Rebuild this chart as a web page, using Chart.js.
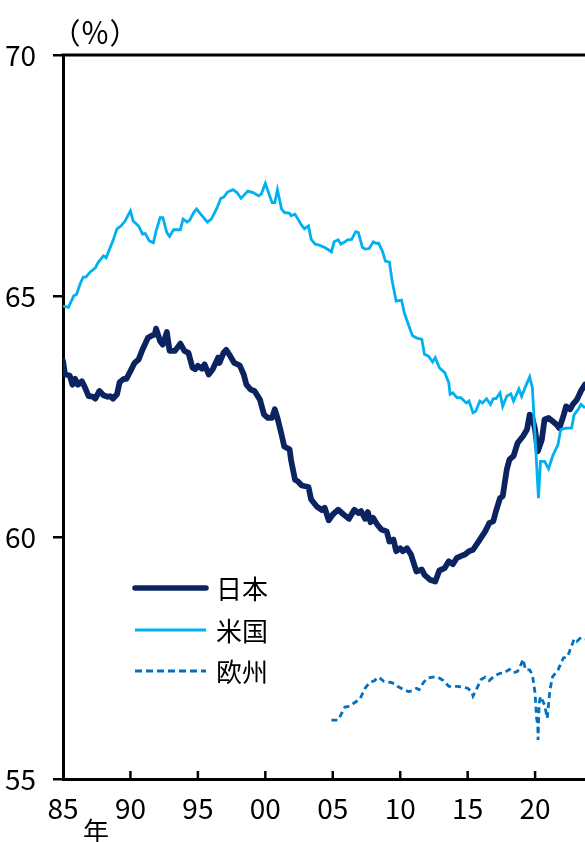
<!DOCTYPE html>
<html>
<head>
<meta charset="utf-8">
<script src="https://cdn.jsdelivr.net/npm/chart.js@4.4.1/dist/chart.umd.min.js"></script>
<style>
html,body{margin:0;padding:0;background:#fff;overflow:hidden;}
canvas{display:block;}
</style>
</head>
<body>
<canvas id="c" width="585" height="842" style="width:585px;height:842px"></canvas>
<script>
// ---- Data ----
const seriesNames = ["日本", "米国", "欧州"];
const xTickYears = [1985, 1990, 1995, 2000, 2005, 2010, 2015, 2020];
const yTickValues = [55, 60, 65, 70];

const japanYears = [1985.0,1985.15,1985.5,1985.7,1985.9,1986.1,1986.4,1986.6,1986.9,1987.2,1987.4,1987.7,1988.0,1988.3,1988.5,1988.7,1989.0,1989.2,1989.5,1989.7,1990.0,1990.3,1990.6,1990.9,1991.3,1991.6,1991.8,1991.9,1992.2,1992.4,1992.7,1992.9,1993.3,1993.7,1994.0,1994.3,1994.6,1994.8,1995.0,1995.3,1995.5,1995.8,1996.1,1996.5,1996.6,1996.9,1997.1,1997.4,1997.7,1998.1,1998.4,1998.6,1998.9,1999.2,1999.6,1999.9,2000.2,2000.5,2000.7,2000.9,2001.2,2001.4,2001.8,2001.9,2002.2,2002.4,2002.7,2003.2,2003.4,2003.8,2004.2,2004.4,2004.7,2005.0,2005.4,2005.8,2006.2,2006.6,2006.9,2007.1,2007.4,2007.6,2007.8,2008.0,2008.3,2008.6,2009.0,2009.2,2009.5,2009.7,2010.0,2010.2,2010.5,2010.8,2011.2,2011.6,2011.8,2012.2,2012.6,2012.9,2013.3,2013.6,2013.9,2014.2,2014.5,2014.8,2015.1,2015.4,2015.9,2016.3,2016.6,2016.9,2017.1,2017.4,2017.6,2017.9,2018.1,2018.4,2018.7,2019.1,2019.4,2019.6,2019.8,2020.0,2020.2,2020.5,2020.7,2021.0,2021.3,2021.6,2021.8,2022.1,2022.3,2022.6,2022.8,2023.1,2023.4,2023.7];
const japanValues = [63.66,63.38,63.36,63.17,63.29,63.17,63.24,63.13,62.93,62.92,62.88,63.04,62.95,62.92,62.93,62.88,62.97,63.22,63.29,63.29,63.45,63.62,63.69,63.90,64.14,64.19,64.21,64.33,64.07,64.00,64.26,63.87,63.87,64.02,63.87,63.83,63.52,63.49,63.56,63.50,63.59,63.38,63.49,63.73,63.62,63.83,63.89,63.76,63.62,63.57,63.38,63.17,63.07,63.04,62.86,62.55,62.48,62.48,62.66,62.48,62.14,61.89,61.83,61.62,61.20,61.17,61.08,61.05,60.79,60.65,60.57,60.62,60.36,60.48,60.58,60.48,60.39,60.58,60.51,60.55,60.39,60.53,60.32,60.41,60.27,60.17,60.13,59.92,59.96,59.72,59.78,59.72,59.78,59.65,59.30,59.34,59.23,59.13,59.09,59.32,59.37,59.51,59.45,59.58,59.62,59.65,59.72,59.75,59.96,60.13,60.30,60.34,60.55,60.82,60.86,61.41,61.62,61.69,61.96,62.10,62.24,62.55,62.48,62.24,61.79,62.03,62.45,62.48,62.41,62.34,62.27,62.52,62.72,62.66,62.76,62.86,63.04,63.17];

const usYears = [1985.0,1985.4,1985.8,1986.0,1986.3,1986.5,1986.7,1987.0,1987.4,1987.6,1988.0,1988.2,1988.5,1988.7,1989.0,1989.3,1989.6,1990.0,1990.2,1990.6,1990.9,1991.1,1991.4,1991.7,1991.9,1992.2,1992.4,1992.7,1992.9,1993.2,1993.7,1993.9,1994.2,1994.4,1994.7,1994.9,1995.3,1995.7,1996.0,1996.4,1996.7,1996.9,1997.2,1997.6,1997.9,1998.2,1998.7,1999.1,1999.5,1999.7,2000.0,2000.2,2000.5,2000.7,2000.9,2001.2,2001.4,2001.8,2001.9,2002.2,2002.4,2002.7,2002.9,2003.2,2003.4,2003.7,2004.0,2004.4,2004.7,2004.9,2005.1,2005.4,2005.6,2005.9,2006.1,2006.4,2006.7,2006.9,2007.2,2007.4,2007.7,2008.0,2008.2,2008.4,2008.7,2008.9,2009.2,2009.4,2009.7,2010.1,2010.3,2010.6,2010.9,2011.2,2011.6,2011.8,2012.1,2012.4,2012.6,2012.9,2013.3,2013.6,2013.7,2013.9,2014.2,2014.5,2014.9,2015.1,2015.4,2015.6,2015.9,2016.1,2016.4,2016.7,2016.9,2017.1,2017.4,2017.6,2017.9,2018.2,2018.4,2018.8,2019.0,2019.3,2019.6,2019.8,2020.25,2020.4,2020.7,2021.0,2021.3,2021.7,2021.9,2022.3,2022.7,2022.9,2023.2,2023.4,2023.7];
const usValues = [64.80,64.77,65.01,65.04,65.28,65.40,65.40,65.50,65.59,65.70,65.84,65.80,66.01,66.15,66.40,66.46,66.56,66.77,66.56,66.46,66.29,66.30,66.15,66.11,66.35,66.63,66.63,66.32,66.24,66.38,66.38,66.60,66.54,66.58,66.74,66.81,66.67,66.54,66.60,66.82,67.03,67.05,67.16,67.21,67.15,67.03,67.18,67.15,67.08,67.12,67.34,67.18,66.94,66.94,67.21,66.81,66.74,66.72,66.67,66.70,66.61,66.47,66.40,66.46,66.18,66.08,66.06,66.01,65.96,65.92,66.13,66.17,66.08,66.13,66.17,66.18,66.34,66.32,66.01,65.98,65.99,66.13,66.10,66.10,65.92,65.73,65.71,65.32,64.90,64.92,64.66,64.42,64.19,64.14,64.11,63.80,63.76,63.64,63.73,63.52,63.42,63.21,62.97,63.00,62.90,62.90,62.79,62.83,62.59,62.62,62.83,62.79,62.88,62.76,62.88,62.88,63.00,62.72,62.93,62.98,62.83,63.08,62.93,63.14,63.33,63.10,60.82,61.58,61.58,61.43,61.69,61.93,62.24,62.27,62.27,62.55,62.66,62.76,62.69];

const euYears = [2004.9,2005.4,2005.9,2006.3,2006.6,2007.0,2007.4,2007.7,2008.1,2008.4,2008.8,2009.3,2009.6,2009.8,2010.2,2010.6,2010.9,2011.2,2011.4,2011.7,2012.0,2012.4,2012.8,2013.2,2013.6,2014.2,2014.7,2015.0,2015.3,2015.4,2015.6,2016.0,2016.3,2016.6,2017.0,2017.4,2017.7,2018.1,2018.4,2018.7,2019.0,2019.1,2019.3,2019.6,2019.8,2020.0,2020.1,2020.2,2020.22,2020.3,2020.4,2020.7,2020.9,2021.1,2021.3,2021.7,2022.1,2022.4,2022.6,2022.9,2023.1,2023.4,2023.7];
const euValues = [56.22,56.22,56.49,56.51,56.58,56.65,56.88,56.99,57.04,57.11,57.02,57.00,56.97,56.92,56.86,56.81,56.83,56.88,56.85,56.99,57.09,57.11,57.11,57.04,56.92,56.92,56.90,56.88,56.81,56.72,56.83,57.06,57.11,57.04,57.14,57.19,57.20,57.27,57.20,57.23,57.40,57.48,57.26,57.26,57.16,56.78,56.29,56.09,55.81,56.57,56.71,56.54,56.26,56.85,57.12,57.26,57.51,57.53,57.68,57.90,57.85,57.93,57.90];

const unitLabel = "（％）";
const xUnitLabel = "年";

// ---- Build ----
const toPts = (xs, ys) => xs.map((x, i) => ({x: x, y: ys[i]}));
const NAVY = "#0b2461", LIGHT = "#00b0f0", MID = "#0070c0";
const NUM_FONT = "'Liberation Sans Narrow', 'Arial Narrow', 'Noto Sans CJK JP', sans-serif";
const CJK_FONT = "'Noto Sans CJK JP', sans-serif";

const extras = {
  id: "extras",
  afterDraw(chart) {
    const ctx = chart.ctx, a = chart.chartArea, xs = chart.scales.x;
    ctx.save();
    // top frame line
    ctx.strokeStyle = "#000"; ctx.lineWidth = 3;
    ctx.beginPath(); ctx.moveTo(a.left - 1.5, a.top); ctx.lineTo(a.right, a.top); ctx.stroke();
    // inward x ticks
    ctx.lineWidth = 2.5;
    xs.ticks.forEach(t => {
      const px = xs.getPixelForValue(t.value);
      if (px <= a.left + 2) return;
      ctx.beginPath(); ctx.moveTo(px, a.bottom); ctx.lineTo(px, a.bottom - 8); ctx.stroke();
    });
    // unit labels
    ctx.fillStyle = "#000";
    ctx.font = "29px " + CJK_FONT;
    ctx.textAlign = "center"; ctx.textBaseline = "middle";
    ctx.fillText(unitLabel, a.left + 32, a.top - 22);
    ctx.font = "26px " + CJK_FONT;
    ctx.fillText(xUnitLabel, a.left + 33, a.bottom + 52);
    // legend
    const styles = [
      {c: NAVY, w: 5.5, d: []},
      {c: LIGHT, w: 3, d: []},
      {c: MID, w: 3, d: [7, 4]}
    ];
    const lx0 = a.left + 72, lx1 = a.left + 143, ty = [588, 630, 671];
    ctx.font = "26px " + CJK_FONT;
    ctx.textAlign = "left";
    seriesNames.forEach((n, i) => {
      const s = styles[i];
      ctx.strokeStyle = s.c; ctx.lineWidth = s.w; ctx.setLineDash(s.d);
      ctx.lineCap = i === 0 ? "round" : "butt";
      ctx.beginPath(); ctx.moveTo(lx0, ty[i]); ctx.lineTo(lx1, ty[i]); ctx.stroke();
      ctx.setLineDash([]);
      ctx.fillStyle = "#000";
      ctx.fillText(n, a.left + 153, ty[i] + 1);
    });
    ctx.restore();
  }
};

new Chart(document.getElementById("c"), {
  type: "line",
  data: {
    datasets: [
      {label: seriesNames[2], data: toPts(euYears, euValues), borderColor: MID, borderWidth: 2.8, borderDash: [6, 4], pointRadius: 0, tension: 0, fill: false},
      {label: seriesNames[1], data: toPts(usYears, usValues), borderColor: LIGHT, borderWidth: 2.8, pointRadius: 0, tension: 0, fill: false},
      {label: seriesNames[0], data: toPts(japanYears, japanValues), borderColor: NAVY, borderWidth: 5.8, borderJoinStyle: "round", borderCapStyle: "round", pointRadius: 0, tension: 0, fill: false}
    ]
  },
  options: {
    responsive: false,
    animation: false,
    events: [],
    layout: {padding: {top: 55, right: 0, bottom: 0, left: 0}},
    plugins: {legend: {display: false}, tooltip: {enabled: false}, title: {display: false}},
    scales: {
      x: {
        type: "linear", min: 1985, max: 2023.7,
        afterBuildTicks: s => { s.ticks = xTickYears.map(v => ({value: v})); },
        afterFit: s => { s.height = 63; },
        grid: {display: false, drawTicks: false},
        border: {display: true, color: "#000", width: 3},
        ticks: {
          padding: 13, color: "#000", maxRotation: 0, autoSkip: false,
          font: {family: NUM_FONT, size: 28},
          callback: v => String(v % 100).padStart(2, "0")
        }
      },
      y: {
        min: 55, max: 70,
        afterBuildTicks: s => { s.ticks = yTickValues.map(v => ({value: v})); },
        afterFit: s => { s.width = 63; },
        grid: {display: true, drawOnChartArea: false, drawTicks: true, tickLength: 10, color: "#000", lineWidth: 2.5},
        border: {display: true, color: "#000", width: 3},
        ticks: {padding: 17, color: "#000", font: {family: NUM_FONT, size: 28}}
      }
    }
  },
  plugins: [extras]
});
</script>
</body>
</html>
